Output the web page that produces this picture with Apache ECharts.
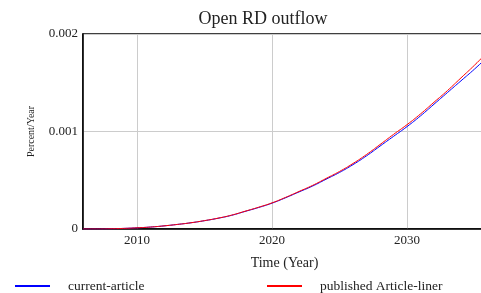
<!DOCTYPE html>
<html>
<head>
<meta charset="utf-8">
<script src="https://cdn.jsdelivr.net/npm/echarts@6/dist/echarts.min.js"></script>
<style>
  html, body { margin: 0; padding: 0; background: #fff; }
  #chart { width: 481px; height: 293px; }
</style>
</head>
<body>
<div id="chart"></div>
<script>
    // years and series values
    var years = [2006, 2007, 2008, 2009, 2010, 2011, 2012, 2013, 2014, 2015, 2016, 2017, 2018, 2019, 2020,
                 2021, 2022, 2023, 2024, 2025, 2026, 2027, 2028, 2029, 2030, 2031, 2032, 2033, 2034, 2035, 2036];
    var currentArticle = [0, 0, 0.000002, 0.000006, 0.000012, 0.00002, 0.000032, 0.000047, 0.000064, 0.000085,
                          0.00011, 0.00014, 0.00018, 0.00022, 0.000265, 0.00032, 0.00038, 0.00044, 0.00051, 0.00058,
                          0.00066, 0.00075, 0.00085, 0.00095, 0.00105, 0.00116, 0.00128, 0.0014, 0.00152, 0.00164, 0.00177];
    var publishedArticle = [0, 0, 0.000002, 0.000006, 0.000012, 0.00002, 0.000032, 0.000047, 0.000064, 0.000086,
                            0.000111, 0.000142, 0.000182, 0.000223, 0.000268, 0.000324, 0.000385, 0.000447, 0.000518, 0.00059,
                            0.000672, 0.000764, 0.000866, 0.00097, 0.00107, 0.00118, 0.0013, 0.00142, 0.00155, 0.00168, 0.00182];
    var yTicks = ['0', '0.001', '0.002'];

    var serif = '"Liberation Serif", "DejaVu Serif", serif';

    function pairs(vals){
        var out = [];
        for (var i = 0; i < years.length; i++) out.push([years[i], vals[i]]);
        return out;
    }

    var chart = echarts.init(document.getElementById('chart'));
    chart.setOption({
        animation: false,
        title: {
            text: 'Open RD outflow',
            left: 258, top: 5, textAlign: 'center',
            textStyle: {fontFamily: serif, fontSize: 18, fontWeight: 'normal', color: '#222'}
        },
        legend: [
            {data: ['current-article'], left: 15, top: 279, padding: 0, itemWidth: 35, itemHeight: 2, icon: 'rect',
             textStyle: {fontFamily: serif, fontSize: 13.5, color: '#222', padding: [0, 0, 0, 13]}},
            {data: ['published Article-liner'], left: 267, top: 279, padding: 0, itemWidth: 35, itemHeight: 2, icon: 'rect',
             textStyle: {fontFamily: serif, fontSize: 13.5, color: '#222', padding: [0, 0, 0, 13]}}
        ],
        grid: {left: 83, top: 34, right: -61, bottom: 64, outerBoundsMode: 'none', containLabel: false,
               show: true, borderColor: '#000', borderWidth: 1.5},
        xAxis: {
            type: 'value', min: 2006, max: 2040, splitNumber: 3,
            name: 'Time (Year)', nameLocation: 'middle', nameGap: 27,
            nameTextStyle: {fontFamily: serif, fontSize: 14, color: '#222', padding: [0, 56, 0, 0]},
            axisLine: {lineStyle: {color: '#000', width: 1.5}},
            axisTick: {show: false},
            axisLabel: {fontFamily: serif, fontSize: 13, color: '#222', margin: 5,
                        formatter: function (v) { return v % 10 === 0 ? String(v) : ''; }},
            splitLine: {lineStyle: {color: '#ccc', width: 1}}
        },
        yAxis: {
            type: 'value', min: 0, max: 0.002, interval: 0.001,
            name: 'Percent/Year', nameLocation: 'middle', nameGap: 47,
            nameTextStyle: {fontFamily: serif, fontSize: 10, color: '#222'},
            axisLine: {show: true, lineStyle: {color: '#000', width: 1.5}},
            axisTick: {show: false},
            axisLabel: {fontFamily: serif, fontSize: 13, color: '#222', margin: 5,
                        formatter: function (v, i) { return yTicks[i]; }},
            splitLine: {lineStyle: {color: '#ccc', width: 1}}
        },
        series: [
            {name: 'current-article', type: 'line', data: pairs(currentArticle), smooth: true,
             showSymbol: false, lineStyle: {color: '#0000ff', width: 1}, itemStyle: {color: '#0000ff'}},
            {name: 'published Article-liner', type: 'line', data: pairs(publishedArticle), smooth: true,
             showSymbol: false, lineStyle: {color: '#ff0000', width: 1}, itemStyle: {color: '#ff0000'}}
        ]
    });
</script>
</body>
</html>
